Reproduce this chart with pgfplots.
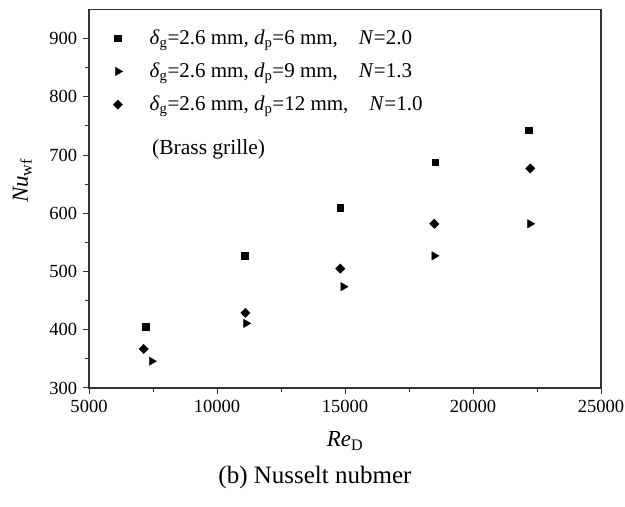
\documentclass[border=0pt]{standalone}
\usepackage{fontspec}
\setmainfont{Liberation Serif}
\usepackage{pgfplots}
\pgfplotsset{compat=1.18}
\usetikzlibrary{calc}

\begin{document}
\fontsize{17}{20}\selectfont
\begin{tikzpicture}
\begin{axis}[name=ax, scale only axis, width=512pt, height=378.5pt,
  xmin=5000, xmax=25000, ymin=300, ymax=950,
  xtick={5000,10000,...,25000}, ytick={300,400,...,900},
  minor x tick num=1, minor y tick num=1,
  xtick pos=bottom, ytick pos=left, tick align=outside,
  major tick length=6pt, minor tick length=4pt,
  axis line style={line width=1.2pt, black!80},
  every tick/.style={line width=1pt, black!80},
  scaled x ticks=false,
  xticklabel style={/pgf/number format/1000 sep={}},
  /pgf/number format/assume math mode=true,
  tick label style={font=\fontsize{18.5}{22}\selectfont},
  label style={font=\fontsize{23}{26}\selectfont},
  xlabel style={yshift=-12pt, inner ysep=1pt},
  ylabel style={yshift=6pt, xshift=18pt},
  xlabel={\textit{Re}\textsubscript{D}},
  ylabel={\textit{Nu}\textsubscript{wf}},
  legend style={draw=none, fill=none, at={(0.041,0.958)}, anchor=north west,
    font=\fontsize{21}{24}\selectfont, row sep=12pt, column sep=25pt},
  legend cell align=left,
]
\addplot[only marks, mark=square*, mark size=3.3pt, black] coordinates {
  (7215,405) (11082,527) (14805,610) (18516,688) (22176,743)
};
\addlegendentry{\textit{δ}\textsubscript{g}=2.6 mm, \textit{d}\textsubscript{p}=6 mm,\quad\textit{N}=2.0}
\addplot[only marks, mark=triangle*, mark size=4.8pt, mark options={rotate=-90}, black] coordinates {
  (7449,346) (11133,411) (14934,474) (18488,527) (22227,582)
};
\addlegendentry{\textit{δ}\textsubscript{g}=2.6 mm, \textit{d}\textsubscript{p}=9 mm,\quad\textit{N}=1.3}
\addplot[only marks, mark=square*, mark size=3.3pt, mark options={rotate=45}, black] coordinates {
  (7137,367) (11107,429) (14817,505) (18488,582) (22238,677)
};
\addlegendentry{\textit{δ}\textsubscript{g}=2.6 mm, \textit{d}\textsubscript{p}=12 mm,\quad\textit{N}=1.0}
\node[anchor=west, font=\fontsize{21.5}{24}\selectfont] at (rel axis cs:0.112,0.630) {(Brass grille)};
\end{axis}
\node[font=\fontsize{25}{28}\selectfont, inner ysep=1pt] at ($(ax.south)+(-30pt,-89pt)$) {(b) Nusselt nubmer};
\pgfresetboundingbox
\useasboundingbox ($(ax.south west)+(-89pt,-119pt)$) rectangle ($(ax.north east)+(24pt,9.5pt)$);
\end{tikzpicture}
\end{document}
